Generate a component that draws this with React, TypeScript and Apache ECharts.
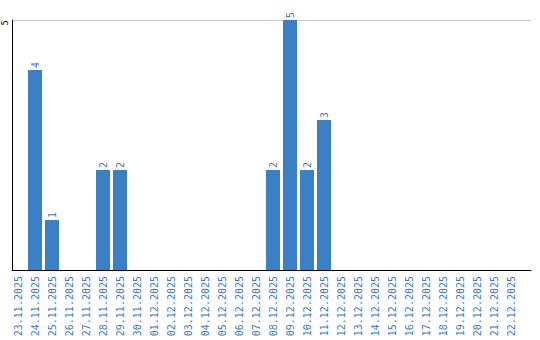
import React, { useEffect, useRef } from "react";
import * as echarts from "echarts";

const categories = [
  "23.11.2025", "24.11.2025", "25.11.2025", "26.11.2025", "27.11.2025", "28.11.2025",
  "29.11.2025", "30.11.2025", "01.12.2025", "02.12.2025", "03.12.2025", "04.12.2025",
  "05.12.2025", "06.12.2025", "07.12.2025", "08.12.2025", "09.12.2025", "10.12.2025",
  "11.12.2025", "12.12.2025", "13.12.2025", "14.12.2025", "15.12.2025", "16.12.2025",
  "17.12.2025", "18.12.2025", "19.12.2025", "20.12.2025", "21.12.2025", "22.12.2025",
];
const values = [0, 4, 1, 0, 0, 2, 2, 0, 0, 0, 0, 0, 0, 0, 0, 2, 5, 2, 3, 0, 0, 0, 0, 0, 0, 0, 0, 0, 0, 0];
const yTicks = [0, 5];

export default function App() {
  const ref = useRef<HTMLDivElement>(null);
  useEffect(() => {
    if (!ref.current) return;
    const chart = echarts.init(ref.current, undefined, { renderer: "svg" });
    const yMax = yTicks[yTicks.length - 1];
    chart.setOption({
      animation: false,
      grid: [
        { left: 9.5, width: 510, top: 20, bottom: 70, containLabel: false },
        { left: 10, right: 9, top: 20, bottom: 70, containLabel: false },
      ],
      xAxis: [
        {
          type: "category",
          gridIndex: 0,
          data: categories,
          axisLine: { show: false },
          axisTick: { show: false },
          axisLabel: {
            rotate: 90,
            interval: 0,
            color: "#3a7cc4",
            fontFamily: "DejaVu Sans Mono",
            fontSize: 10,
            margin: 6,
          },
        },
        {
          type: "value",
          gridIndex: 1,
          min: 0,
          max: 1,
          axisLine: { show: true, onZero: false, lineStyle: { color: "#000", width: 1 } },
          axisTick: { show: false },
          axisLabel: { show: false },
          splitLine: { show: false },
        },
      ],
      yAxis: [
        {
          type: "value",
          gridIndex: 0,
          min: 0,
          max: yMax,
          show: false,
        },
        {
          type: "value",
          gridIndex: 1,
          min: 0,
          max: yMax,
          interval: yMax,
          axisLine: { show: true, onZero: false, lineStyle: { color: "#000", width: 1 } },
          axisTick: { show: false },
          splitLine: { lineStyle: { color: "#c8c8c8" } },
          axisLabel: {
            rotate: 90,
            align: "right",
            color: "#000",
            fontFamily: "DejaVu Sans Mono",
            fontSize: 9,
            margin: 3,
            formatter: (v: number) => (v === 0 ? "" : String(v)),
          },
        },
      ],
      series: [
        {
          type: "bar",
          xAxisIndex: 0,
          yAxisIndex: 0,
          data: values.map((v) => (v === 0 ? null : v)),
          barWidth: 14,
          itemStyle: { color: "#3b7fc4" },
          label: {
            show: true,
            position: "top",
            rotate: 90,
            align: "left",
            verticalAlign: "middle",
            distance: 2,
            color: "#3a7cc4",
            fontFamily: "DejaVu Sans Mono",
            fontSize: 10,
          },
        },
      ],
    });
    return () => chart.dispose();
  }, []);
  return <div ref={ref} style={{ width: 540, height: 340, position: "absolute", left: 0, top: 0 }} />;
}
